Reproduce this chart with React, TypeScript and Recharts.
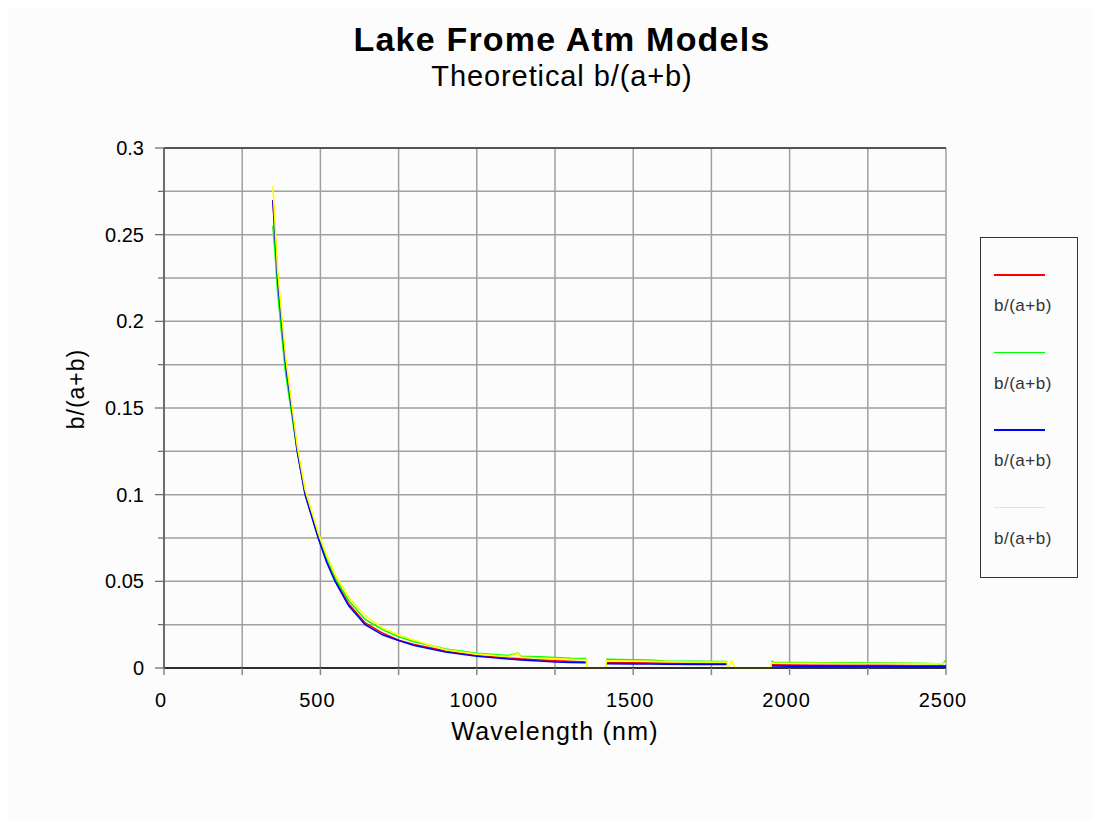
import React from "react";
import { LineChart, Line, XAxis, YAxis, CartesianGrid, Legend, ReferenceLine, Label } from "recharts";

// wavelength (nm) sample points
const WAVELENGTH = [
  348, 355, 363, 376, 389, 408, 426, 451, 493, 520, 547, 590, 643, 700, 750, 800, 900, 1000, 1100, 1132,
  1140, 1200, 1250, 1300, 1350, 1352, 1380, 1412, 1414, 1500, 1550, 1600, 1700, 1800, 1802, 1815, 1825,
  1870, 1940, 1942, 1950, 2000, 2100, 2200, 2300, 2400, 2470, 2490, 2500,
];

const RED = [
  0.27, 0.25, 0.225, 0.2, 0.175, 0.15, 0.126, 0.101, 0.076, 0.062, 0.051, 0.037, 0.026, 0.02, 0.016, 0.0135,
  0.0098, 0.0072, 0.0058, 0.0055, 0.0053, 0.0046, 0.0042, 0.0038, 0.0035, null, null, null, 0.003, 0.003,
  0.0029, 0.0028, 0.0026, 0.0025, null, null, null, null, null, 0.0018, 0.0018, 0.0017, 0.0016, 0.0015,
  0.0015, 0.0014, 0.0013, 0.0013, 0.0012,
];

const GREEN = [
  0.255, 0.24, 0.218, 0.193, 0.17, 0.147, 0.125, 0.101, 0.076, 0.063, 0.052, 0.039, 0.028, 0.022, 0.018, 0.0152,
  0.011, 0.0085, 0.0072, 0.0086, 0.0068, 0.0064, 0.006, 0.0056, 0.0054, null, null, null, 0.005, 0.0047,
  0.0046, 0.004, 0.0038, 0.0037, null, null, null, null, null, 0.004, 0.0032, 0.0031, 0.003, 0.003,
  0.0029, 0.0027, 0.0024, 0.0025, 0.0045,
];

const BLUE = [
  0.27, 0.25, 0.225, 0.2, 0.175, 0.15, 0.125, 0.1, 0.075, 0.061, 0.05, 0.036, 0.025, 0.019, 0.0158, 0.013,
  0.0092, 0.0068, 0.0052, 0.0048, 0.0047, 0.004, 0.0035, 0.0032, 0.003, null, null, null, 0.0025, 0.0024,
  0.0023, 0.0022, 0.0021, 0.002, null, null, null, null, null, 0.0012, 0.0012, 0.0011, 0.0011, 0.001,
  0.001, 0.0009, 0.0009, 0.0009, 0.0008,
];

const YELLOW = [
  0.278, 0.256, 0.23, 0.204, 0.179, 0.153, 0.128, 0.103, 0.078, 0.065, 0.054, 0.041, 0.03, 0.023, 0.019, 0.016,
  0.0105, 0.008, 0.0066, 0.0084, 0.0063, 0.0058, 0.0054, 0.005, 0.0048, 0, 0, 0, 0.0042, 0.004,
  0.0039, 0.0037, 0.0035, 0.0034, 0, 0.004, 0, 0, 0, 0.003, 0.0028, 0.0027, 0.0027, 0.0026,
  0.0026, 0.0025, 0.0024, 0.0026, 0.003,
];

const X_TICKS = [0, 250, 500, 750, 1000, 1250, 1500, 1750, 2000, 2250, 2500];
const X_LABELS = [0, 500, 1000, 1500, 2000, 2500];
const Y_TICKS = [0, 0.025, 0.05, 0.075, 0.1, 0.125, 0.15, 0.175, 0.2, 0.225, 0.25, 0.275, 0.3];
const Y_LABELS = ["0", "0.05", "0.1", "0.15", "0.2", "0.25", "0.3"];

const SERIES = [
  { key: "red", name: "b/(a+b)", color: "#ff0000" },
  { key: "green", name: "b/(a+b)", color: "#00ff00" },
  { key: "blue", name: "b/(a+b)", color: "#0000ff" },
  { key: "yellow", name: "b/(a+b)", color: "#ffff00" },
];

const data = WAVELENGTH.map((w, i) => ({
  w,
  red: RED[i],
  green: GREEN[i],
  blue: BLUE[i],
  yellow: YELLOW[i],
}));

const FONT = "'Liberation Sans', Arial, sans-serif";
const BG = "#fcfcfc";

const YTick = (props: any) => {
  const { x, y, payload } = props;
  const label = Y_LABELS.find((l) => Math.abs(Number(l) - payload.value) < 1e-9);
  const ax = x + 20;
  return (
    <g>
      <line x1={ax - (label ? 9 : 6)} x2={ax} y1={y} y2={y} stroke="#666" strokeWidth={1.2} />
      {label && (
        <text x={x} y={y} textAnchor="end" dominantBaseline="central" fontSize={20} fill="#000" fontFamily={FONT}>
          {label}
        </text>
      )}
    </g>
  );
};

const XTick = (props: any) => {
  const { x, y, payload } = props;
  const show = X_LABELS.includes(payload.value);
  return (
    <g>
      <line x1={x} x2={x} y1={y - 25} y2={y - 18} stroke="#888" strokeWidth={1.5} />
      {show && (
        <text x={x - 3} y={y} dy="0.71em" textAnchor="middle" fontSize={20} fill="#000" fontFamily={FONT} letterSpacing={1}>
          {payload.value}
        </text>
      )}
    </g>
  );
};

const LegendBox = () => (
  <div
    style={{
      width: 98,
      height: 341,
      border: "1px solid #333",
      boxSizing: "border-box",
      position: "relative",
      background: BG,
      fontFamily: FONT,
    }}
  >
    {SERIES.map((s, i) => (
      <React.Fragment key={s.key}>
        <div
          style={{
            position: "absolute",
            left: 13,
            top: 36 + i * 77.6,
            width: 51,
            height: 1.5,
            background: s.color,
          }}
        />
        <div
          style={{
            position: "absolute",
            left: 13,
            top: 59 + i * 77.6,
            fontSize: 17,
            lineHeight: "17px",
            color: "#333",
            letterSpacing: 0.5,
            whiteSpace: "nowrap",
          }}
        >
          {s.name}
        </div>
      </React.Fragment>
    ))}
  </div>
);

export default function App() {
  return (
    <div style={{ position: "relative", width: 1084, height: 812, background: BG, fontFamily: FONT }}>
      <div
        style={{
          position: "absolute",
          left: 254,
          width: 600,
          top: 14,
          textAlign: "center",
          fontSize: 34,
          lineHeight: "34px",
          fontWeight: "bold",
          letterSpacing: 1.2,
          color: "#000",
        }}
      >
        Lake Frome Atm Models
      </div>
      <div
        style={{
          position: "absolute",
          left: 254,
          width: 600,
          top: 54,
          textAlign: "center",
          fontSize: 29,
          lineHeight: "29px",
          letterSpacing: 0.9,
          color: "#000",
        }}
      >
        Theoretical b/(a+b)
      </div>
      <LineChart
        width={1084}
        height={812}
        data={data}
        margin={{ top: 140, right: 146, bottom: 92, left: 90 }}
        style={{ position: "absolute", left: 0, top: 0 }}
      >
        <CartesianGrid stroke="#a0a0a0" strokeWidth={1.5} />
        <XAxis
          dataKey="w"
          type="number"
          domain={[0, 2500]}
          ticks={X_TICKS}
          interval={0}
          height={60}
          tickSize={7}
          tickMargin={18}
          tickLine={false}
          tick={<XTick />}
          axisLine={{ stroke: "#000", strokeWidth: 1.5 }}
        >
          <Label
            value="Wavelength (nm)"
            position="bottom"
            offset={-6}
            fontSize={25}
            fill="#000"
            fontFamily={FONT}
            letterSpacing={1.2}
          />
        </XAxis>
        <YAxis
          type="number"
          domain={[0, 0.3]}
          ticks={Y_TICKS}
          interval={0}
          width={66}
          tickSize={9}
          tickMargin={11}
          tickLine={false}
          tick={<YTick />}
          axisLine={{ stroke: "#555", strokeWidth: 1.5 }}
        >
          <Label
            content={(p: any) => {
              const vb = p.viewBox;
              const cx = vb.x - 22;
              const cy = vb.y + vb.height / 2 - 19;
              return (
                <text
                  x={cx}
                  y={cy}
                  transform={`rotate(-90 ${cx} ${cy})`}
                  textAnchor="middle"
                  dominantBaseline="central"
                  fontSize={23}
                  fill="#000"
                  fontFamily={FONT}
                  letterSpacing={1}
                >
                  b/(a+b)
                </text>
              );
            }}
          />
        </YAxis>
        <ReferenceLine y={0.3} stroke="#333" strokeWidth={1.5} />
        {SERIES.map((s) => (
          <Line
            key={s.key}
            type="linear"
            dataKey={s.key}
            name={s.name}
            stroke={s.color}
            strokeWidth={1.6}
            dot={false}
            activeDot={false}
            connectNulls={false}
            isAnimationActive={false}
          />
        ))}
        <Legend
          layout="horizontal"
          verticalAlign="middle"
          align="center"
          content={<LegendBox />}
          wrapperStyle={{ left: 972, top: 229, width: 98, height: 341 }}
        />
      </LineChart>
    </div>
  );
}
